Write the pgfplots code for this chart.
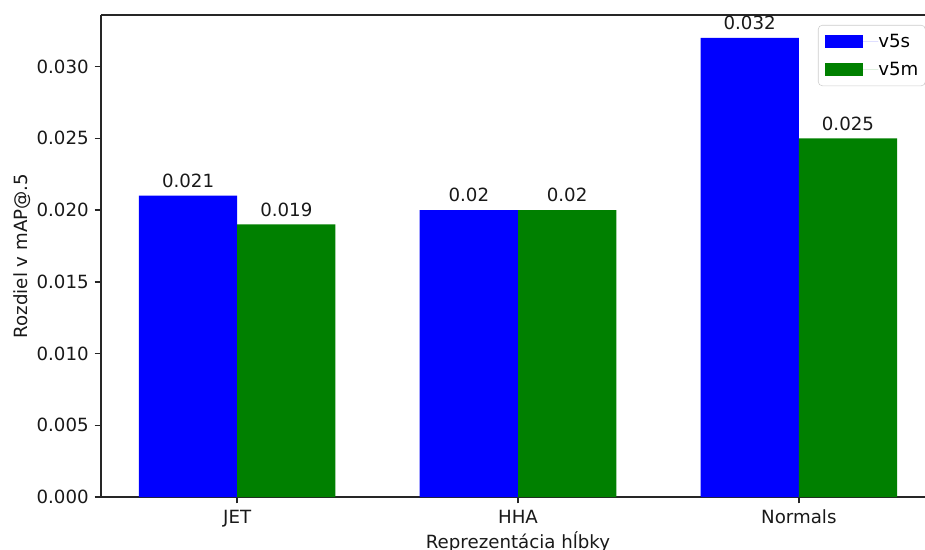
\documentclass[border=0pt]{standalone}
\usepackage{pgfplots}
\pgfplotsset{compat=1.18}
\usepackage{fontspec}
\setmainfont{DejaVu Sans}
\definecolor{mblue}{RGB}{0,0,255}
\definecolor{mgreen}{RGB}{0,128,0}
\newcommand{\fs}{\fontsize{13.65pt}{16.4pt}\selectfont}
\begin{document}
\begin{tikzpicture}
\useasboundingbox (0,0) rectangle (693.75pt,412.5pt);
\clip (0,0) rectangle (693.75pt,412.5pt);
\begin{axis}[
  at={(75.75pt,39.75pt)}, anchor=south west,
  scale only axis, width=625.5pt, height=361.5pt,
  xmin=-0.485, xmax=2.485, ymin=0, ymax=0.0336,
  axis x line*=box, axis y line*=left,
  ybar, bar width=0.35,
  xtick={0,1,2}, xticklabels={JET,HHA,Normals},
  ytick={0,0.005,0.010,0.015,0.020,0.025,0.030},
  scaled y ticks=false,
  /pgf/number format/assume math mode=true,
  yticklabel style={/pgf/number format/fixed, /pgf/number format/fixed zerofill, /pgf/number format/precision=3},
  xtick pos=bottom, ytick pos=left,
  tick align=outside, major tick length=4.8pt,
  axis line style={line width=1.05pt, black!85},
  every tick/.style={line width=1.05pt, black!85},
  tick label style={font=\fs, text=black!90},
  xticklabel style={inner sep=0pt, anchor=north, yshift=-4.8pt},
  yticklabel style={inner sep=0pt, anchor=east, xshift=-4.2pt},
  xlabel={Reprezentácia hĺbky},
  ylabel={Rozdiel v mAP@.5},
  label style={font=\fs, text=black!90, inner sep=0pt},
  xlabel style={at={(axis description cs:0.5,-0.1065)}, anchor=base},
  ylabel style={at={(axis description cs:-0.0945,0.5)}, anchor=center},
  nodes near coords, point meta=explicit symbolic,
  every node near coord/.append style={font=\fs, text=black!90, inner sep=0pt, anchor=south, yshift=5.7pt},
  legend style={at={(0.8597,0.9793)}, anchor=north west, draw=black!20, rounded corners=3pt,
    fill=white, font=\fs, inner xsep=5.25pt, inner ysep=6.5pt, row sep=9.5pt,
    nodes={inner sep=0pt}},
  legend cell align=left,
  legend image code/.code={\fill[#1, sharp corners] (0pt,-5pt) rectangle (28.5pt,5pt);
    \path (0pt,0pt) -- (39.75pt,0pt);},
]
\addplot[fill=mblue, draw=none, bar shift=-0.175] table[meta=l] {
x y l
0 0.021 0.021
1 0.020 0.02
2 0.032 0.032
};
\addplot[fill=mgreen, draw=none, bar shift=0.175] table[meta=l] {
x y l
0 0.019 0.019
1 0.020 0.02
2 0.025 0.025
};
\legend{v5s,v5m}
\end{axis}
\end{tikzpicture}
\end{document}
